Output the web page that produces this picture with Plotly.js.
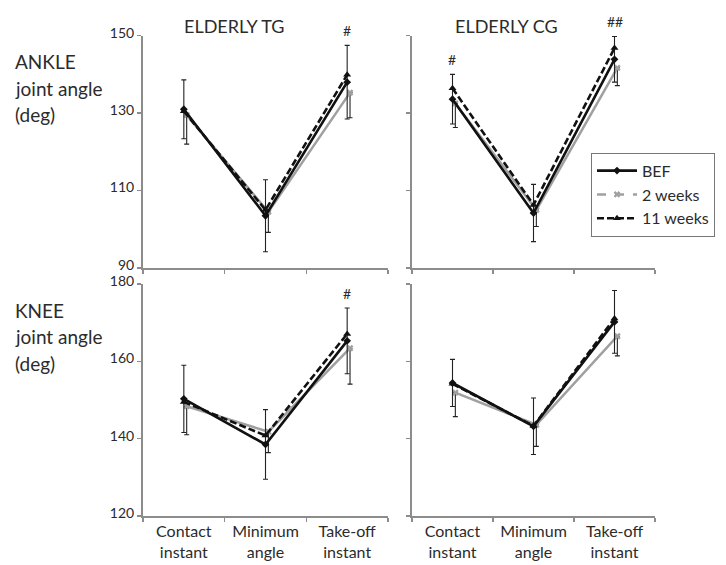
<!DOCTYPE html>
<html>
<head>
<meta charset="utf-8">
<script src="https://cdn.plot.ly/plotly-3.0.1.min.js"></script>
<style>
  html, body { margin: 0; padding: 0; background: #fff; }
  #chart { width: 726px; height: 565px; }
</style>
</head>
<body>
<div id="chart"></div>
<script>
// Gait phases (x categories)
const phases = ["Contact<br>instant", "Minimum<br>angle", "Take-off<br>instant"];

// Ankle joint angle (deg), elderly training group
const ankleTgBef   = [131.0, 103.5, 138.0];
const ankleTgBefSd = [7.6, 9.3, 9.5];
const ankleTg2w    = [129.5, 104.5, 135.3];
const ankleTg2wSd  = [7.5, 5.3, 6.5];
const ankleTg11w   = [130.5, 105.0, 139.9];
const ankleTgSig   = ["", "", "#"];

// Ankle joint angle (deg), elderly control group
const ankleCgBef   = [133.6, 104.2, 143.9];
const ankleCgBefSd = [6.4, 7.4, 5.9];
const ankleCg2w    = [132.5, 105.0, 141.7];
const ankleCg2wSd  = [6.2, 4.3, 4.6];
const ankleCg11w   = [136.4, 106.3, 146.8];
const ankleCgSig   = ["#", "", "##"];

// Knee joint angle (deg), elderly training group
const kneeTgBef    = [150.3, 138.5, 165.3];
const kneeTgBefSd  = [8.7, 9.0, 8.5];
const kneeTg2w     = [148.4, 141.8, 163.4];
const kneeTg2wSd   = [7.4, 5.4, 9.3];
const kneeTg11w    = [149.5, 140.8, 167.1];
const kneeTgSig    = ["", "", "#"];

// Knee joint angle (deg), elderly control group
const kneeCgBef    = [154.4, 143.2, 170.2];
const kneeCgBefSd  = [6.1, 7.3, 8.1];
const kneeCg2w     = [151.9, 143.6, 166.5];
const kneeCg2wSd   = [6.2, 5.6, 5.1];
const kneeCg11w    = [154.2, 143.3, 171.1];
const kneeCgSig    = ["", "", ""];

const ankleTicks = [90, 110, 130, 150];
const kneeTicks  = [120, 140, 160, 180];

const FONT = 'Lato, "Open Sans", sans-serif';
const TEXT = '#2b2b2b';
const AXIS = '#8c8c8c';
const GREY = '#a0a0a0';
const W2_SHIFT = 0.035;   // small horizontal nudge of the 2-week series

const panels = [
  { xa: 'x',  ya: 'y',  bef: ankleTgBef, befSd: ankleTgBefSd, w2: ankleTg2w, w2Sd: ankleTg2wSd, w11: ankleTg11w, sig: ankleTgSig },
  { xa: 'x2', ya: 'y2', bef: ankleCgBef, befSd: ankleCgBefSd, w2: ankleCg2w, w2Sd: ankleCg2wSd, w11: ankleCg11w, sig: ankleCgSig },
  { xa: 'x3', ya: 'y3', bef: kneeTgBef,  befSd: kneeTgBefSd,  w2: kneeTg2w,  w2Sd: kneeTg2wSd,  w11: kneeTg11w,  sig: kneeTgSig },
  { xa: 'x4', ya: 'y4', bef: kneeCgBef,  befSd: kneeCgBefSd,  w2: kneeCg2w,  w2Sd: kneeCg2wSd,  w11: kneeCg11w,  sig: kneeCgSig }
];

const idx = phases.map((_, i) => i);
const traces = [];
const annotations = [];

panels.forEach((p, k) => {
  // 2 weeks (grey, drawn underneath)
  traces.push({
    type: 'scatter', mode: 'lines+markers', xaxis: p.xa, yaxis: p.ya,
    x: idx.map(i => i + W2_SHIFT), y: p.w2, name: '2 weeks', showlegend: false,
    line: { color: GREY, width: 2.5 },
    marker: { symbol: 'x', size: 6, color: GREY },
    error_y: { type: 'data', symmetric: false, array: p.w2Sd.map(() => 0), arrayminus: p.w2Sd,
               color: '#222', thickness: 1.1, width: 2.5 }
  });
  // BEF (solid black)
  traces.push({
    type: 'scatter', mode: 'lines+markers', xaxis: p.xa, yaxis: p.ya,
    x: idx, y: p.bef, name: 'BEF', showlegend: k === 0, legendrank: 1,
    line: { color: '#111', width: 2.6 },
    marker: { symbol: 'diamond', size: 6, color: '#111' },
    error_y: { type: 'data', array: p.befSd, color: '#222', thickness: 1.1, width: 2.5 }
  });
  // 11 weeks (dashed black)
  traces.push({
    type: 'scatter', mode: 'lines+markers', xaxis: p.xa, yaxis: p.ya,
    x: idx, y: p.w11, name: '11 weeks', showlegend: k === 0, legendrank: 3,
    line: { color: '#111', width: 2.6, dash: '7px,3px' },
    marker: { symbol: 'triangle-up', size: 7, color: '#111' }
  });
  // significance marks above the bars
  p.sig.forEach((s, i) => {
    if (!s) return;
    annotations.push({
      xref: p.xa, yref: p.ya, x: i, y: Math.max(p.bef[i] + p.befSd[i], p.w11[i]),
      text: s, showarrow: false, yanchor: 'bottom', yshift: 4,
      font: { family: FONT, size: 14, color: TEXT }
    });
  });
});

// legend entry for the 2-week series, shown with its dashed key
traces.push({
  type: 'scatter', mode: 'lines+markers', x: [null], y: [null],
  name: '2 weeks', legendrank: 2,
  line: { color: GREY, width: 2.5, dash: 'dash' },
  marker: { symbol: 'x', size: 6, color: GREY }
});

function xAxis(domain, anchor, labels) {
  return {
    domain: domain, anchor: anchor, range: [-0.5, 2.5], type: 'linear',
    tickmode: 'array', tickvals: idx, ticktext: phases,
    showticklabels: labels, ticks: '',
    minor: { tickmode: 'array', tickvals: [-0.5, 0.5, 1.5, 2.5], ticks: 'outside',
             ticklen: 4, tickwidth: 1.5, tickcolor: AXIS, showgrid: false },
    showline: true, linecolor: AXIS, linewidth: 2,
    showgrid: false, zeroline: false, fixedrange: true,
    tickfont: { family: FONT, size: 16, color: TEXT }
  };
}
function yAxis(domain, anchor, range, ticks, labels) {
  return {
    domain: domain, anchor: anchor, range: range,
    tickmode: 'array', tickvals: ticks, showticklabels: labels,
    ticks: 'outside', ticklen: 4, tickwidth: 1.5, tickcolor: AXIS,
    ticklabelshift: -3,
    showline: true, linecolor: AXIS, linewidth: 2,
    showgrid: false, zeroline: false, fixedrange: true,
    tickfont: { family: FONT, size: 14, color: TEXT }
  };
}

const W = 726, H = 565;
const colL = [143 / W, 388 / W], colR = [412 / W, 655 / W];
const rowT = [1 - 268 / H, 1 - 35.7 / H], rowB = [1 - 516 / H, 1 - 284 / H];

function label(text, x, y, size) {
  annotations.push({ xref: 'paper', yref: 'paper', x: x / W, y: 1 - y / H,
    xanchor: 'left', yanchor: 'middle', showarrow: false, text: text,
    font: { family: FONT, size: size, color: TEXT } });
}
annotations.push({ xref: 'paper', yref: 'paper', x: 234 / W, y: 1 - 26 / H,
  xanchor: 'center', yanchor: 'middle', showarrow: false, text: 'ELDERLY TG',
  font: { family: FONT, size: 18, color: TEXT } });
annotations.push({ xref: 'paper', yref: 'paper', x: 506 / W, y: 1 - 26 / H,
  xanchor: 'center', yanchor: 'middle', showarrow: false, text: 'ELDERLY CG',
  font: { family: FONT, size: 18, color: TEXT } });
label('ANKLE', 13, 61, 19);
label('joint angle', 13, 88, 19);
label('(deg)', 13, 115, 19);
label('KNEE', 13, 310, 19);
label('joint angle', 13, 336, 19);
label('(deg)', 13, 363, 19);

const layout = {
  width: W, height: H,
  margin: { l: 0, r: 0, t: 0, b: 0 },
  paper_bgcolor: '#fff', plot_bgcolor: '#fff',
  font: { family: FONT, color: TEXT },
  xaxis:  xAxis(colL, 'y',  false),
  xaxis2: xAxis(colR, 'y2', false),
  xaxis3: xAxis(colL, 'y3', true),
  xaxis4: xAxis(colR, 'y4', true),
  yaxis:  yAxis(rowT, 'x',  [90, 150],  ankleTicks, true),
  yaxis2: yAxis(rowT, 'x2', [90, 150],  ankleTicks, false),
  yaxis3: yAxis(rowB, 'x3', [120, 180], kneeTicks, true),
  yaxis4: yAxis(rowB, 'x4', [120, 180], kneeTicks, false),
  showlegend: true,
  legend: {
    x: 591 / W, y: 1 - 152.7 / H, xanchor: 'left', yanchor: 'top',
    bgcolor: '#fff', bordercolor: '#777', borderwidth: 1,
    font: { family: FONT, size: 16, color: TEXT },
    itemwidth: 40,
    tracegroupgap: 0, itemclick: false, itemdoubleclick: false
  },
  annotations: annotations
};

Plotly.newPlot('chart', traces, layout, { staticPlot: true, displayModeBar: false });
</script>
</body>
</html>
